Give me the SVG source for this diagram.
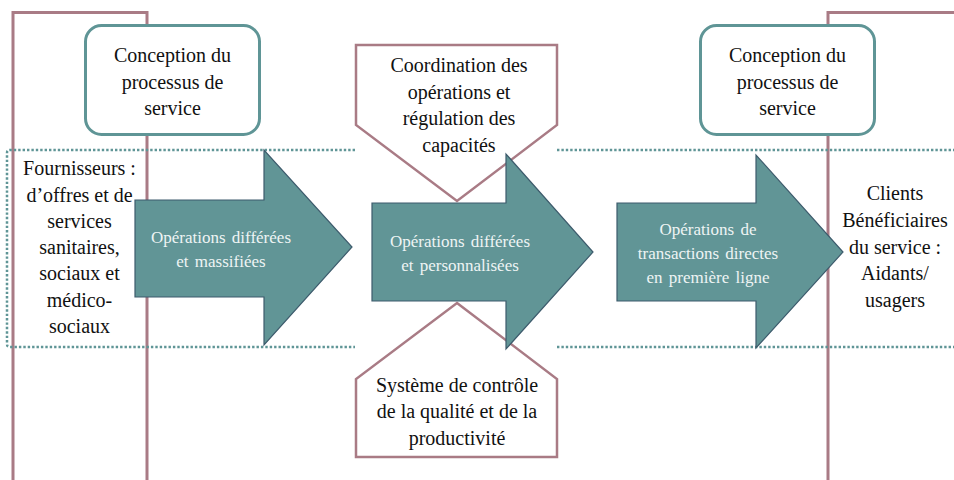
<svg xmlns="http://www.w3.org/2000/svg" width="954" height="480" viewBox="0 0 954 480">
  <style>
    .frame { fill: none; stroke: #a97b85; stroke-width: 3; }
    .zone { fill: none; stroke: #5f9596; stroke-width: 2.5; stroke-dasharray: 2.4 2; }
    .box { fill: #ffffff; stroke: #5f9596; stroke-width: 3; }
    .pent { fill: #ffffff; stroke: #a97b85; stroke-width: 2.5; }
    .arrow { fill: #619596; stroke: #3d5b6c; stroke-width: 1.2; }
  </style>
  <rect width="954" height="480" fill="#ffffff"/>

  <!-- open frames at both ends -->
  <g id="frame-left">
    <path class="frame" d="M13,482 V12.5 H147 V482"/>
  </g>
  <g id="frame-right">
    <path class="frame" d="M828,482 V12.5 H960"/>
  </g>

  <!-- dotted operations zone -->
  <g id="zone">
    <path class="zone" d="M355,150 H10 Q7,150 7,153 V344 Q7,347 10,347 H355"/>
    <path class="zone" d="M557,150 H956"/>
    <path class="zone" d="M557,347 H956"/>
  </g>

  <!-- design boxes -->
  <g id="conception-left">
    <rect class="box" x="85.5" y="25.5" width="174" height="109" rx="16"/>
    <text x="172.5" y="62" font-family="Times New Roman" font-size="20" fill="#111" text-anchor="middle">Conception du</text>
    <text x="172.5" y="88.5" font-family="Times New Roman" font-size="20" fill="#111" text-anchor="middle">processus de</text>
    <text x="172.5" y="115" font-family="Times New Roman" font-size="20" fill="#111" text-anchor="middle">service</text>
  </g>
  <g id="conception-right">
    <rect class="box" x="700.5" y="25.5" width="174" height="109" rx="16"/>
    <text x="787.5" y="62" font-family="Times New Roman" font-size="20" fill="#111" text-anchor="middle">Conception du</text>
    <text x="787.5" y="88.5" font-family="Times New Roman" font-size="20" fill="#111" text-anchor="middle">processus de</text>
    <text x="787.5" y="115" font-family="Times New Roman" font-size="20" fill="#111" text-anchor="middle">service</text>
  </g>

  <!-- coordination and control pentagons -->
  <g id="coordination">
    <polygon class="pent" points="356,45 557,45 557,125 457,201 356,125"/>
    <text x="459" y="72" font-family="Times New Roman" font-size="20" fill="#111" text-anchor="middle">Coordination des</text>
    <text x="459" y="98.5" font-family="Times New Roman" font-size="20" fill="#111" text-anchor="middle">opérations et</text>
    <text x="459" y="125" font-family="Times New Roman" font-size="20" fill="#111" text-anchor="middle">régulation des</text>
    <text x="459" y="151.5" font-family="Times New Roman" font-size="20" fill="#111" text-anchor="middle">capacités</text>
  </g>
  <g id="controle">
    <polygon class="pent" points="457,303 557,379 557,457 356,457 356,379"/>
    <text x="457" y="392" font-family="Times New Roman" font-size="20" fill="#111" text-anchor="middle">Système de contrôle</text>
    <text x="457" y="418" font-family="Times New Roman" font-size="20" fill="#111" text-anchor="middle">de la qualité et de la</text>
    <text x="457" y="444.5" font-family="Times New Roman" font-size="20" fill="#111" text-anchor="middle">productivité</text>
  </g>

  <!-- side labels -->
  <g id="fournisseurs">
    <text x="79.5" y="175" font-family="Times New Roman" font-size="20" fill="#111" text-anchor="middle">Fournisseurs :</text>
    <text x="79.5" y="201.5" font-family="Times New Roman" font-size="20" fill="#111" text-anchor="middle">d’offres et de</text>
    <text x="79.5" y="227.5" font-family="Times New Roman" font-size="20" fill="#111" text-anchor="middle">services</text>
    <text x="79.5" y="254" font-family="Times New Roman" font-size="20" fill="#111" text-anchor="middle">sanitaires,</text>
    <text x="79.5" y="280" font-family="Times New Roman" font-size="20" fill="#111" text-anchor="middle">sociaux et</text>
    <text x="79.5" y="306.5" font-family="Times New Roman" font-size="20" fill="#111" text-anchor="middle">médico-</text>
    <text x="79.5" y="333" font-family="Times New Roman" font-size="20" fill="#111" text-anchor="middle">sociaux</text>
  </g>
  <g id="clients">
    <text x="895" y="200" font-family="Times New Roman" font-size="20" fill="#111" text-anchor="middle">Clients</text>
    <text x="895" y="227" font-family="Times New Roman" font-size="20" fill="#111" text-anchor="middle">Bénéficiaires</text>
    <text x="895" y="253.5" font-family="Times New Roman" font-size="20" fill="#111" text-anchor="middle">du service :</text>
    <text x="895" y="280" font-family="Times New Roman" font-size="20" fill="#111" text-anchor="middle">Aidants/</text>
    <text x="895" y="306.5" font-family="Times New Roman" font-size="20" fill="#111" text-anchor="middle">usagers</text>
  </g>

  <!-- operation flow arrows -->
  <g id="connectors">
    <g id="op-massifiees">
      <polygon class="arrow" points="135,200 264,200 264,150 352,247 264,345 264,297 135,297"/>
      <text x="221" y="243" font-family="Times New Roman" font-size="17" fill="#eef4f4" text-anchor="middle" word-spacing="2">Opérations différées</text>
      <text x="221" y="267" font-family="Times New Roman" font-size="17" fill="#eef4f4" text-anchor="middle" word-spacing="2">et massifiées</text>
    </g>
    <g id="op-personnalisees">
      <polygon class="arrow" points="372,203 506,203 506,154 593,252 506,349 506,301 372,301"/>
      <text x="460" y="247" font-family="Times New Roman" font-size="17" fill="#eef4f4" text-anchor="middle" word-spacing="2">Opérations différées</text>
      <text x="460" y="271" font-family="Times New Roman" font-size="17" fill="#eef4f4" text-anchor="middle" word-spacing="2">et personnalisées</text>
    </g>
    <g id="op-directes">
      <polygon class="arrow" points="617,203 756,203 756,155 843,252 756,348 756,301 617,301"/>
      <text x="708" y="235" font-family="Times New Roman" font-size="17" fill="#eef4f4" text-anchor="middle" word-spacing="2">Opérations de</text>
      <text x="708" y="259" font-family="Times New Roman" font-size="17" fill="#eef4f4" text-anchor="middle" word-spacing="2">transactions directes</text>
      <text x="708" y="283" font-family="Times New Roman" font-size="17" fill="#eef4f4" text-anchor="middle" word-spacing="2">en première ligne</text>
    </g>
  </g>
</svg>
